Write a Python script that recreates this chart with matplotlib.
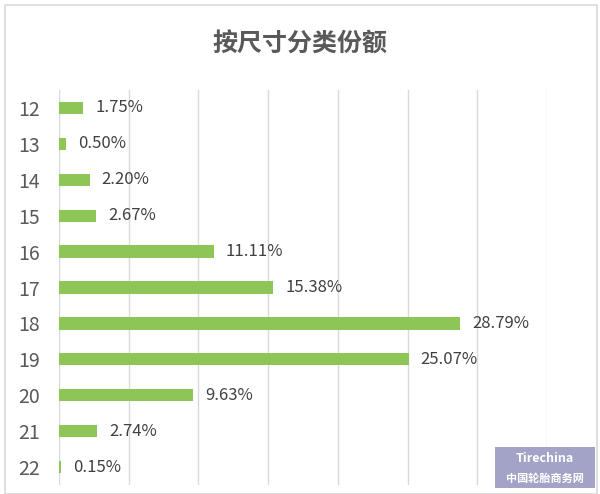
import matplotlib
matplotlib.use("Agg")
import matplotlib.pyplot as plt
from matplotlib.patches import Rectangle

plt.rcParams['font.family'] = ['Noto Sans CJK SC', 'DejaVu Sans']

categories = ["12", "13", "14", "15", "16", "17", "18", "19", "20", "21", "22"]
values = [1.75, 0.50, 2.20, 2.67, 11.11, 15.38, 28.79, 25.07, 9.63, 2.74, 0.15]
labels = ["1.75%", "0.50%", "2.20%", "2.67%", "11.11%", "15.38%", "28.79%", "25.07%", "9.63%", "2.74%", "0.15%"]
title = "按尺寸分类份额"

W, H = 600, 494
fig = plt.figure(figsize=(W / 100, H / 100), dpi=100)
fig.patch.set_facecolor("white")

# outer chart frame
fig.add_artist(Rectangle((5 / W, 0), 592 / W, 1 - 5 / H, transform=fig.transFigure,
                         fill=False, edgecolor="#d9d9d9", lw=1.2))

ax = fig.add_axes([59 / W, 1 - 485 / H, (547 - 59) / W, (485 - 90) / H])
y = list(range(len(categories)))
ax.barh(y, values, height=0.34, color="#8DC657")
ax.set_ylim(len(categories) - 0.5, -0.5)
ax.set_xlim(0, 35)
ax.set_xticks(range(0, 36, 5))
ax.xaxis.grid(True, color="#d9d9d9", lw=1)
ax.set_axisbelow(True)
ax.tick_params(axis="x", length=0, labelbottom=False)
ax.set_yticks(y)
ax.set_yticklabels(categories, fontsize=14, color="#595959")
ax.tick_params(axis="y", length=0, pad=14)
for s in ax.spines.values():
    s.set_visible(False)

for yi, v, lab in zip(y, values, labels):
    ax.annotate(lab, (v, yi), xytext=(12, 0), textcoords="offset pixels",
                va="center", ha="left", fontsize=12, color="#404040")

fig.text(0.5, 1 - 45 / H, title, ha="center", va="center", fontsize=18,
         fontweight="bold", color="#595959")

# watermark logo box
fig.add_artist(Rectangle((495 / W, 1 - 488 / H), 100 / W, 41 / H, transform=fig.transFigure,
                         facecolor="#a3a3c8", edgecolor="none"))
fig.text(545 / W, 1 - 458 / H, "Tirechina", ha="center", va="center", fontsize=9,
         fontstyle="italic", fontweight="bold", color="white")
fig.text(545 / W, 1 - 478 / H, "中国轮胎商务网", ha="center", va="center", fontsize=8,
         fontweight="bold", color="white")

fig.savefig("out.png", dpi=100)
